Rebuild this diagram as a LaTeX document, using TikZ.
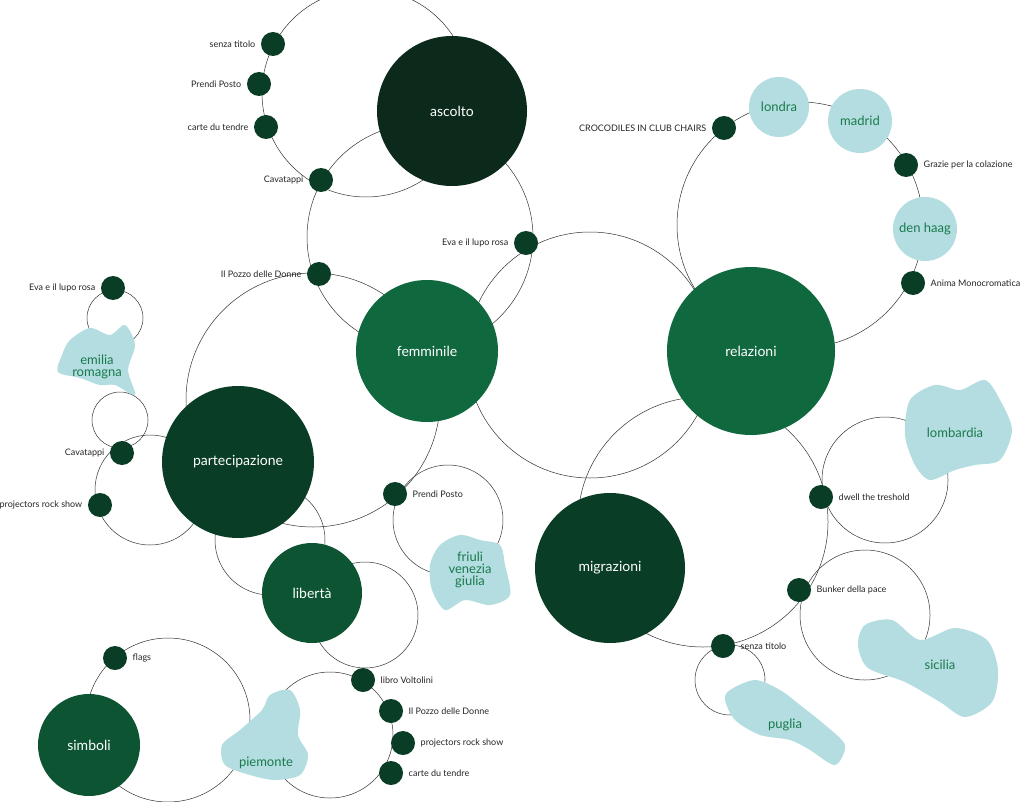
\documentclass[tikz,border=0pt]{standalone}
\usepackage{fontspec}
\setmainfont{Lato}
\definecolor{dk}{HTML}{0A3D26}
\definecolor{dkk}{HTML}{0B2A1C}
\definecolor{gr}{HTML}{10683E}
\definecolor{gm}{HTML}{0D5532}
\definecolor{lb}{HTML}{B3DDE0}
\definecolor{tx}{HTML}{1A7A4C}
\begin{document}
\begin{tikzpicture}[x=1pt,y=-1pt,
  thin/.style={draw=black!80,line width=0.5pt},
  big/.style={circle,inner sep=0pt,text=white,font=\fontsize{14}{14}\selectfont},
  dot/.style={circle,fill=dk,inner sep=0pt,minimum size=24pt},
  lab/.style={font=\fontsize{9}{9}\selectfont,text=black!85},
  place/.style={font=\fontsize{13}{12}\selectfont,text=tx,align=center},
  blob/.style={fill=lb}]
\useasboundingbox (0,0) rectangle (1024,802);
\fill[white] (0,0) rectangle (1024,802);
% thin circles
\draw[thin] (366,93) circle (104);
\draw[thin] (420,237) circle (113);
\draw[thin] (313,400) circle (127);
\draw[thin] (590,355) circle (123);
\draw[thin] (800,225) circle (123);
\draw[thin] (703,522) circle (125);
\draw[thin] (885,480) circle (63);
\draw[thin] (865,615) circle (65);
\draw[thin] (730,680) circle (35);
\draw[thin] (115,318) circle (28);
\draw[thin] (120,420) circle (28);
\draw[thin] (150,490) circle (55);
\draw[thin] (448,520) circle (55);
\draw[thin] (270,540) circle (55);
\draw[thin] (365,615) circle (53);
\draw[thin] (330,735) circle (63);
\draw[thin] (168,720) circle (82);
% big circles
\node[big,fill=dkk,minimum size=150pt] (asc) at (452,111) {ascolto};
\node[big,fill=gr,minimum size=142pt] (fem) at (427,351) {femminile};
\node[big,fill=gr,minimum size=168pt] (rel) at (751,351) {relazioni};
\node[big,fill=dk,minimum size=152pt] (par) at (238,462) {partecipazione};
\node[big,fill=dk,minimum size=150pt] (mig) at (610,568) {migrazioni};
\node[big,fill=gm,minimum size=100pt] (lib) at (312,593) {libertà};
\node[big,fill=gm,minimum size=102pt] (sim) at (89,745) {simboli};
% light blue circles
\node[circle,fill=lb,minimum size=60pt,place] (lon) at (779,107) {londra};
\node[circle,fill=lb,minimum size=64pt,place] (mad) at (860,121) {madrid};
\node[circle,fill=lb,minimum size=64pt,place] (den) at (925,229) {den haag};
% blobs
\fill[blob] plot[smooth cycle] coordinates {(70,340)(90,328)(110,335)(125,325)(135,345)(128,370)(135,395)(115,385)(100,385)(80,378)(58,372)(62,355)};
\node[place] (emi) at (97,367) {emilia\\romagna};
\fill[blob] plot[smooth cycle] coordinates {(910,400)(935,385)(960,390)(985,380)(1000,400)(1012,430)(1000,460)(975,465)(955,470)(930,480)(915,465)(905,435)};
\node[place] (lom) at (955,433) {lombardia};
\fill[blob] plot[smooth cycle] coordinates {(440,545)(460,535)(480,540)(500,545)(505,565)(510,595)(490,605)(465,600)(445,610)(432,590)(430,565)};
\node[place] (fri) at (470,570) {friuli\\venezia\\giulia};
\fill[blob] plot[smooth cycle] coordinates {(865,625)(892,620)(920,640)(955,628)(987,640)(998,670)(992,702)(965,717)(940,702)(905,682)(868,668)(858,645)};
\node[place] (sic) at (940,665) {sicilia};
\fill[blob] plot[smooth cycle] coordinates {(730,690)(755,680)(780,690)(800,705)(825,725)(845,745)(835,765)(810,750)(790,740)(760,735)(735,720)(725,700)};
\node[place] (pug) at (785,725) {puglia};
\fill[blob] plot[smooth cycle] coordinates {(240,730)(262,710)(270,695)(290,690)(300,710)(298,735)(308,755)(300,775)(275,780)(250,775)(225,765)(222,745)};
\node[place] (pie) at (266,763) {piemonte};
% dots
\foreach \n/\x/\y/\t/\s in {
 a/273/44/senza titolo/l, b/259/84/Prendi Posto/l, c/266/127/carte du tendre/l,
 d/321/180/Cavatappi/l, e/319/274/Il Pozzo delle Donne/l, f/526/243/Eva e il lupo rosa/l,
 g/724/128/CROCODILES IN CLUB CHAIRS/l, h/906/165/Grazie per la colazione/r,
 i/913/283/Anima Monocromatica/r, j/113/288/Eva e il lupo rosa/l, k/122/453/Cavatappi/l,
 m/100/505/projectors rock show/l, n/395/494/Prendi Posto/r, o/821/497/dwell the treshold/r,
 p/799/590/Bunker della pace/r, q/723/646/senza titolo/r, s/115/658/flags/r,
 t/363/680/libro Voltolini/r, u/391/711/Il Pozzo delle Donne/r, v/403/743/projectors rock show/r,
 w/391/773/carte du tendre/r}{
 \node[dot] (\n) at (\x,\y) {};
 \if l\s \node[lab,anchor=east] at ([xshift=-2pt]\n.west) {\t};
 \else \node[lab,anchor=west] at ([xshift=2pt]\n.east) {\t}; \fi
}
\end{tikzpicture}
\end{document}
